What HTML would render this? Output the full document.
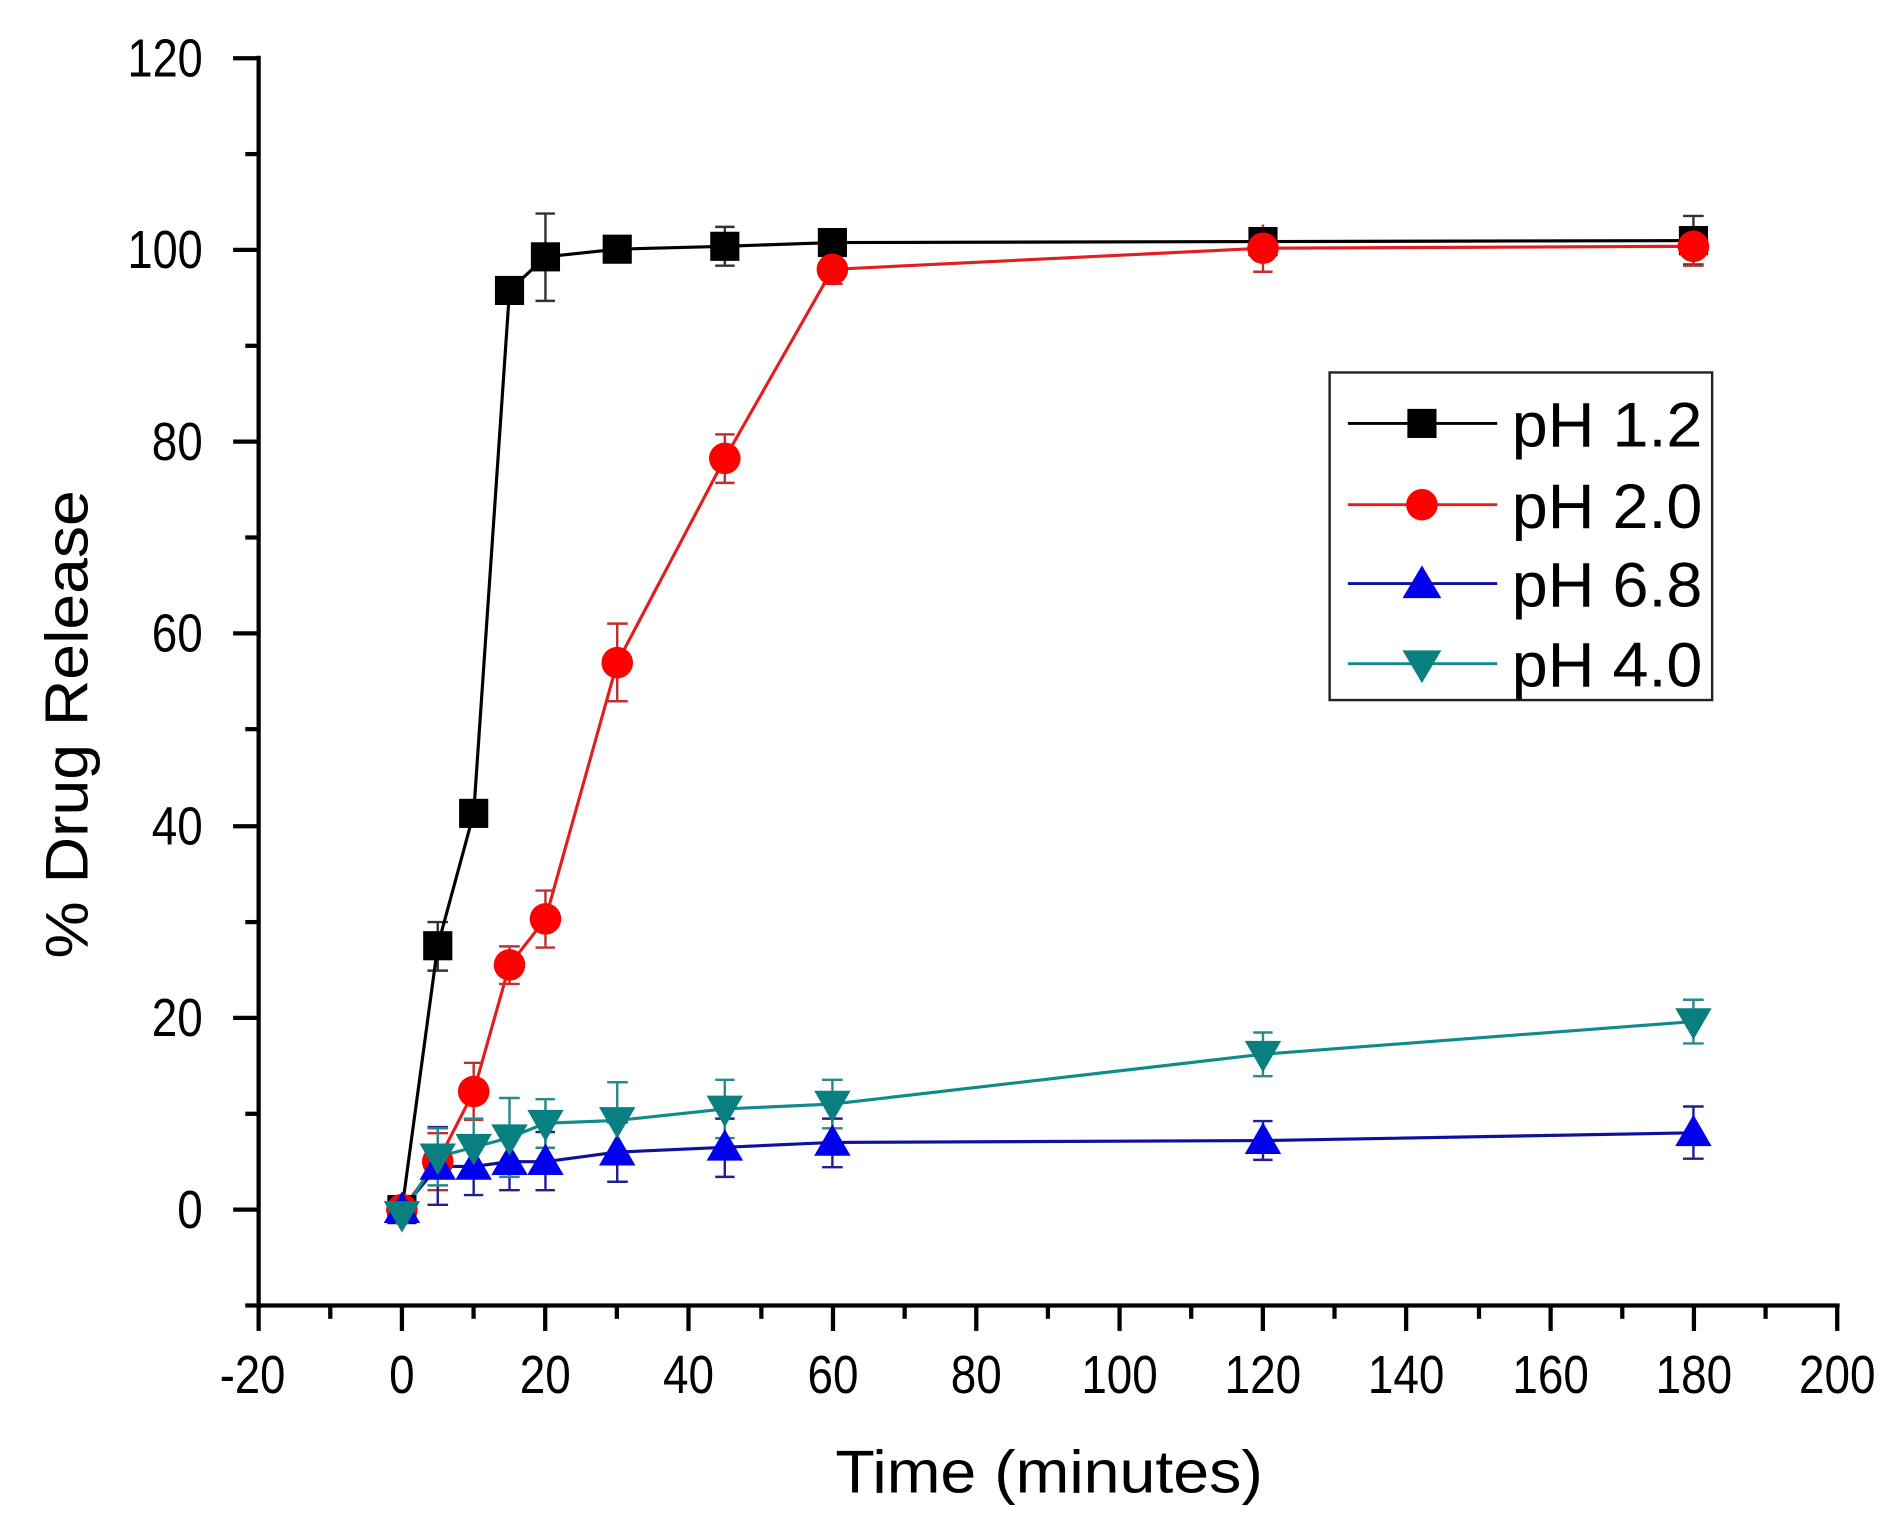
<!DOCTYPE html>
<html><head><meta charset="utf-8"><style>html,body{margin:0;padding:0;background:#fff}svg{display:block}</style></head>
<body>
<svg width="1904" height="1536" viewBox="0 0 1568 1266" preserveAspectRatio="none" xmlns="http://www.w3.org/2000/svg" font-family="Liberation Sans, Arial, sans-serif">
<rect width="1568" height="1266" fill="#fff"/>
<g stroke="#000" stroke-width="3.5" fill="none">
<line x1="213" y1="46" x2="213" y2="1078"/>
<line x1="211" y1="1076" x2="1515" y2="1076"/>
<line x1="192" y1="48" x2="213" y2="48"/><line x1="192" y1="206" x2="213" y2="206"/><line x1="192" y1="364" x2="213" y2="364"/><line x1="192" y1="522" x2="213" y2="522"/><line x1="192" y1="681" x2="213" y2="681"/><line x1="192" y1="839" x2="213" y2="839"/><line x1="192" y1="997" x2="213" y2="997"/>
<line x1="202" y1="127" x2="213" y2="127"/><line x1="202" y1="285" x2="213" y2="285"/><line x1="202" y1="443" x2="213" y2="443"/><line x1="202" y1="601" x2="213" y2="601"/><line x1="202" y1="760" x2="213" y2="760"/><line x1="202" y1="918" x2="213" y2="918"/><line x1="202" y1="1076" x2="213" y2="1076"/>
<line x1="213" y1="1076" x2="213" y2="1097"/><line x1="331" y1="1076" x2="331" y2="1097"/><line x1="449" y1="1076" x2="449" y2="1097"/><line x1="567" y1="1076" x2="567" y2="1097"/><line x1="686" y1="1076" x2="686" y2="1097"/><line x1="804" y1="1076" x2="804" y2="1097"/><line x1="922" y1="1076" x2="922" y2="1097"/><line x1="1040" y1="1076" x2="1040" y2="1097"/><line x1="1158" y1="1076" x2="1158" y2="1097"/><line x1="1277" y1="1076" x2="1277" y2="1097"/><line x1="1395" y1="1076" x2="1395" y2="1097"/><line x1="1513" y1="1076" x2="1513" y2="1097"/>
<line x1="272" y1="1076" x2="272" y2="1087"/><line x1="390" y1="1076" x2="390" y2="1087"/><line x1="508" y1="1076" x2="508" y2="1087"/><line x1="627" y1="1076" x2="627" y2="1087"/><line x1="745" y1="1076" x2="745" y2="1087"/><line x1="863" y1="1076" x2="863" y2="1087"/><line x1="981" y1="1076" x2="981" y2="1087"/><line x1="1099" y1="1076" x2="1099" y2="1087"/><line x1="1218" y1="1076" x2="1218" y2="1087"/><line x1="1336" y1="1076" x2="1336" y2="1087"/><line x1="1454" y1="1076" x2="1454" y2="1087"/>
</g>
<g font-size="44" fill="#000" text-anchor="end">
<text x="167" y="63" textLength="62" lengthAdjust="spacingAndGlyphs">120</text><text x="167" y="221" textLength="62" lengthAdjust="spacingAndGlyphs">100</text><text x="167" y="379" textLength="42" lengthAdjust="spacingAndGlyphs">80</text><text x="167" y="537" textLength="42" lengthAdjust="spacingAndGlyphs">60</text><text x="167" y="696" textLength="42" lengthAdjust="spacingAndGlyphs">40</text><text x="167" y="854" textLength="42" lengthAdjust="spacingAndGlyphs">20</text><text x="167" y="1012" textLength="21" lengthAdjust="spacingAndGlyphs">0</text>
</g>
<g font-size="44" fill="#000" text-anchor="middle">
<text x="208" y="1148" textLength="54" lengthAdjust="spacingAndGlyphs">-20</text><text x="331" y="1148" textLength="21" lengthAdjust="spacingAndGlyphs">0</text><text x="449" y="1148" textLength="42" lengthAdjust="spacingAndGlyphs">20</text><text x="567" y="1148" textLength="42" lengthAdjust="spacingAndGlyphs">40</text><text x="686" y="1148" textLength="42" lengthAdjust="spacingAndGlyphs">60</text><text x="804" y="1148" textLength="42" lengthAdjust="spacingAndGlyphs">80</text><text x="922" y="1148" textLength="63" lengthAdjust="spacingAndGlyphs">100</text><text x="1040" y="1148" textLength="63" lengthAdjust="spacingAndGlyphs">120</text><text x="1158" y="1148" textLength="63" lengthAdjust="spacingAndGlyphs">140</text><text x="1277" y="1148" textLength="63" lengthAdjust="spacingAndGlyphs">160</text><text x="1395" y="1148" textLength="63" lengthAdjust="spacingAndGlyphs">180</text><text x="1513" y="1148" textLength="63" lengthAdjust="spacingAndGlyphs">200</text>
</g>
<text x="688" y="1230" font-size="50" textLength="352" lengthAdjust="spacingAndGlyphs">Time (minutes)</text>
<text transform="translate(72,790) rotate(-90)" font-size="50" textLength="386" lengthAdjust="spacingAndGlyphs">% Drug Release</text>

<g stroke-width="2" fill="none">
<g stroke="#333">
<path d="M360.5 760V800M352 760H369M352 800H369"/>
<path d="M449.2 176V248M441 176H457M441 248H457"/>
<path d="M596.9 187V219M589 187H605M589 219H605"/>
<path d="M685.5 191V209M677 191H694"/>
<path d="M1040.1 189V209M1032 189H1048"/>
<path d="M1394.6 178V218M1386 178H1403M1386 218H1403"/>
</g>
<g stroke="#c03030">
<path d="M360.5 934V981M352 934H369M352 981H369"/>
<path d="M390.1 876V923M382 876H398M382 923H398"/>
<path d="M419.6 780V811M411 780H428M411 811H428"/>
<path d="M449.2 734V781M441 734H457M441 781H457"/>
<path d="M508.3 514V578M500 514H517M500 578H517"/>
<path d="M596.9 358V398M589 358H605M589 398H605"/>
<path d="M685.5 210V234M677 234H694"/>
<path d="M1040.1 185V224M1032 224H1048"/>
<path d="M1394.6 187V219M1386 219H1403"/>
</g>
<g stroke="#202090">
<path d="M360.5 929V993M352 929H369M352 993H369"/>
<path d="M390.1 937V985M382 937H398M382 985H398"/>
<path d="M419.6 933V981M411 933H428M411 981H428"/>
<path d="M449.2 933V981M441 933H457M441 981H457"/>
<path d="M508.3 925V974M500 925H517M500 974H517"/>
<path d="M596.9 922V970M589 922H605M589 970H605"/>
<path d="M685.5 922V962M677 922H694M677 962H694"/>
<path d="M1040.1 924V956M1032 924H1048M1032 956H1048"/>
<path d="M1394.6 912V955M1386 912H1403M1386 955H1403"/>
</g>
<g stroke="#2a8a8a">
<path d="M360.5 930V977M352 930H369M352 977H369"/>
<path d="M390.1 922V969M382 922H398M382 969H398"/>
<path d="M419.6 905V970M411 905H428M411 970H428"/>
<path d="M449.2 906V946M441 906H457M441 946H457"/>
<path d="M508.3 892V955M500 892H517M500 955H517"/>
<path d="M596.9 890V938M589 890H605M589 938H605"/>
<path d="M685.5 890V930M677 890H694M677 930H694"/>
<path d="M1040.1 851V887M1032 851H1048M1032 887H1048"/>
<path d="M1394.6 824V860M1386 824H1403M1386 860H1403"/>
</g>
</g>
<g fill="none" stroke-width="2.6">
<polyline stroke="#000" points="331,997 360.5,779.5 390.1,670.4 419.6,239.4 449.2,211.7 508.3,205.4 596.9,203 685.5,199.9 1040.1,199.1 1394.6,198.3"/>
<polyline stroke="#e02020" points="331,997 360.5,957.5 390.1,899.7 419.6,795.3 449.2,757.4 508.3,546.2 596.9,377.8 685.5,222 1040.1,204.6 1394.6,203"/>
<polyline stroke="#1010a0" points="331,997 360.5,961.4 390.1,961.4 419.6,957.5 449.2,957.5 508.3,949.6 596.9,945.6 685.5,941.6 1040.1,940.1 1394.6,933.7"/>
<polyline stroke="#108a8a" points="331,1001 360.5,953.5 390.1,945.6 419.6,937.7 449.2,925.8 508.3,923.5 596.9,914 685.5,910 1040.1,868.9 1394.6,842"/>
</g>
<g fill="#000">
<rect x="319" y="985" width="24" height="24"/><rect x="348.5" y="767.5" width="24" height="24"/><rect x="378.1" y="658.4" width="24" height="24"/><rect x="407.6" y="227.4" width="24" height="24"/><rect x="437.2" y="199.7" width="24" height="24"/><rect x="496.3" y="193.4" width="24" height="24"/><rect x="584.9" y="191" width="24" height="24"/><rect x="673.5" y="187.9" width="24" height="24"/><rect x="1028.1" y="187.1" width="24" height="24"/><rect x="1382.6" y="186.3" width="24" height="24"/>
</g>
<g fill="#ff0000">
<circle cx="331" cy="997" r="13"/><circle cx="360.5" cy="957.5" r="13"/><circle cx="390.1" cy="899.7" r="13"/><circle cx="419.6" cy="795.3" r="13"/><circle cx="449.2" cy="757.4" r="13"/><circle cx="508.3" cy="546.2" r="13"/><circle cx="596.9" cy="377.8" r="13"/><circle cx="685.5" cy="222" r="13"/><circle cx="1040.1" cy="204.6" r="13"/><circle cx="1394.6" cy="203" r="13"/>
</g>
<g fill="#0000ee">
<path d="M331 982l-15 26h30z"/><path d="M360.5 946.4l-15 26h30z"/><path d="M390.1 946.4l-15 26h30z"/><path d="M419.6 942.5l-15 26h30z"/><path d="M449.2 942.5l-15 26h30z"/><path d="M508.3 934.6l-15 26h30z"/><path d="M596.9 930.6l-15 26h30z"/><path d="M685.5 926.6l-15 26h30z"/><path d="M1040.1 925.1l-15 26h30z"/><path d="M1394.6 918.7l-15 26h30z"/>
</g>
<g fill="#0a7f7f">
<path d="M331 1016l-15 -26h30z"/><path d="M360.5 968.5l-15 -26h30z"/><path d="M390.1 960.6l-15 -26h30z"/><path d="M419.6 952.7l-15 -26h30z"/><path d="M449.2 940.8l-15 -26h30z"/><path d="M508.3 938.5l-15 -26h30z"/><path d="M596.9 929l-15 -26h30z"/><path d="M685.5 925l-15 -26h30z"/><path d="M1040.1 883.9l-15 -26h30z"/><path d="M1394.6 857l-15 -26h30z"/>
</g>
<rect x="1095" y="307" width="315" height="270" fill="#fff" stroke="#222" stroke-width="2"/>
<g stroke-width="2.4">
<line x1="1110" y1="349" x2="1233" y2="349" stroke="#000"/>
<line x1="1110" y1="416" x2="1233" y2="416" stroke="#e02020"/>
<line x1="1110" y1="481" x2="1233" y2="481" stroke="#1010a0"/>
<line x1="1110" y1="547" x2="1233" y2="547" stroke="#108a8a"/>
</g>
<rect x="1159" y="337" width="24" height="24" fill="#000"/>
<circle cx="1171" cy="416" r="13" fill="#ff0000"/>
<path d="M1171 466l-16 27h32z" fill="#0000ee"/>
<path d="M1171 563l-16 -27h32z" fill="#0a7f7f"/>
<g font-size="52" fill="#000">
<text x="1245" y="368" textLength="157" lengthAdjust="spacingAndGlyphs">pH 1.2</text>
<text x="1245" y="435" textLength="157" lengthAdjust="spacingAndGlyphs">pH 2.0</text>
<text x="1245" y="500" textLength="157" lengthAdjust="spacingAndGlyphs">pH 6.8</text>
<text x="1245" y="566" textLength="157" lengthAdjust="spacingAndGlyphs">pH 4.0</text>
</g>
</svg>
</body></html>
